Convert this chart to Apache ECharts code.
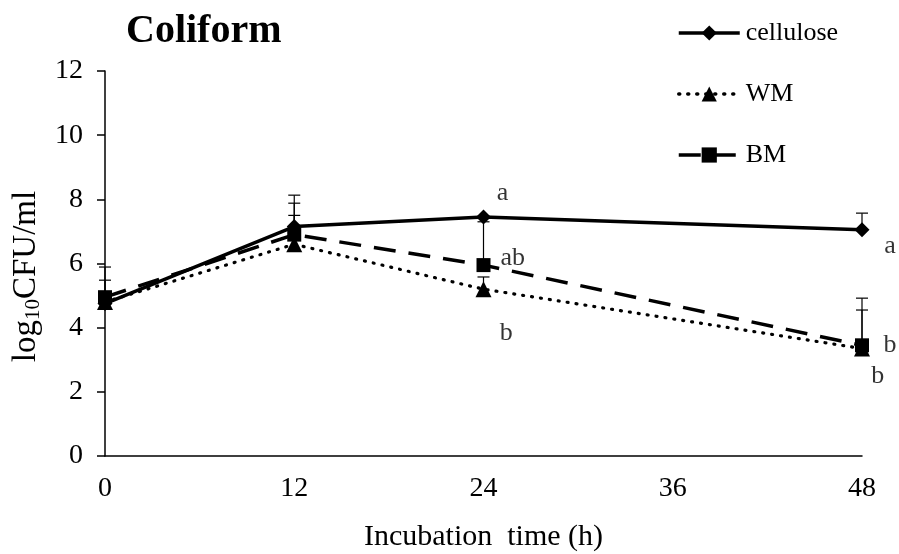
<!DOCTYPE html>
<html>
<head>
<meta charset="utf-8">
<script src="https://cdn.jsdelivr.net/npm/echarts@6/dist/echarts.min.js"></script>
<style>html,body{margin:0;padding:0;background:#fff}#c{width:899px;height:554px}</style>
</head>
<body>
<div id="c"></div>
<script>
// ---- data ----
const hours = [0, 12, 24, 48];
const xTicks = [0, 12, 24, 36, 48];
const cellulose = [4.75, 7.15, 7.45, 7.05];
const wm = [4.8, 6.6, 5.2, 3.35];
const bm = [4.95, 6.9, 5.95, 3.45];
const celluloseUpper = [5.48, 8.13, null, 7.57];
const wmUpper = [null, 7.5, 5.58, 4.55];
const bmUpper = [5.89, 7.88, 7.3, 4.92];
const letterText = ['a', 'ab', 'b', 'a', 'b', 'b'];
const letterX = [25.2, 25.85, 25.45, 49.78, 49.78, 49.0];
const letterY = [8.2, 6.17, 3.83, 6.55, 3.46, 2.49];

const FONT = '"Liberation Serif", "Times New Roman", serif';

function pairs(vals) { return hours.map((h, i) => [h, vals[i]]); }
function errData(vals, upper) {
  const out = [];
  hours.forEach((h, i) => { if (upper[i] != null) out.push([h, vals[i], upper[i]]); });
  return out;
}
const errAll = errData(cellulose, celluloseUpper).concat(errData(wm, wmUpper), errData(bm, bmUpper));

const chart = echarts.init(document.getElementById('c'));
chart.setOption({
  animation: false,
  backgroundColor: '#fff',
  title: {
    text: 'Coliform', left: 121, top: 7,
    textStyle: { fontFamily: FONT, fontWeight: 'bold', fontSize: 40, color: '#000' }
  },
  legend: {
    orient: 'vertical', left: 677, top: 20, padding: 0, itemWidth: 61, itemHeight: 19, itemGap: 35,
    textStyle: { fontFamily: FONT, fontSize: 26, color: '#000', padding: [0, 0, 0, 1] },
    lineStyle: { width: 3.5 },
    data: ['cellulose', 'WM', 'BM']
  },
  grid: { left: 105, right: 37, top: 71, bottom: 98, containLabel: false, outerBoundsMode: 'none' },
  xAxis: {
    type: 'value', min: 0, max: 48, interval: 12,
    name: 'Incubation  time (h)', nameLocation: 'middle', nameGap: 66,
    nameTextStyle: { fontFamily: FONT, fontSize: 30, color: '#000' },
    axisLine: { show: true, onZero: false, lineStyle: { color: '#000', width: 1.5 } },
    axisTick: { show: false },
    splitLine: { show: false },
    axisLabel: { fontFamily: FONT, fontSize: 28, color: '#000', margin: 19,
      customValues: xTicks, showMinLabel: true, showMaxLabel: true }
  },
  yAxis: {
    type: 'value', min: 0, max: 12, interval: 2,
    name: 'log{sub|10}CFU/ml', nameLocation: 'middle', nameGap: 61,
    nameTextStyle: { fontFamily: FONT, fontSize: 33, color: '#000', padding: [0, 26, 0, 0],
      rich: { sub: { fontFamily: FONT, fontSize: 21, color: '#000', verticalAlign: 'bottom', padding: [15, 0, 0, 0] } } },
    axisLine: { show: true, lineStyle: { color: '#000', width: 1.5 } },
    axisTick: { show: true, inside: false, length: 8, lineStyle: { color: '#000', width: 1.5 } },
    splitLine: { show: false },
    axisLabel: { fontFamily: FONT, fontSize: 28, color: '#000', margin: 22 }
  },
  series: [
    {
      name: 'cellulose', type: 'line', data: pairs(cellulose),
      symbol: 'diamond', symbolSize: 15, color: '#000',
      lineStyle: { color: '#000', width: 3.5, type: 'solid' },
      itemStyle: { color: '#000' }, z: 3
    },
    {
      name: 'WM', type: 'line', data: pairs(wm),
      symbol: 'triangle', symbolSize: 16, color: '#000',
      lineStyle: { color: '#000', width: 3.2, type: [1, 8], cap: 'round' },
      itemStyle: { color: '#000' }, z: 3
    },
    {
      name: 'BM', type: 'line', data: pairs(bm),
      symbol: 'rect', symbolSize: 14, color: '#000',
      lineStyle: { color: '#000', width: 3.5, type: [22, 13] },
      itemStyle: { color: '#000' }, z: 3
    },
    {
      name: 'err', type: 'custom', data: errAll, z: 4, silent: true,
      renderItem: function (params, api) {
        const x = api.value(0);
        const p0 = api.coord([x, api.value(1)]);
        const p1 = api.coord([x, api.value(2)]);
        const w = 6;
        return {
          type: 'group',
          children: [
            { type: 'line', shape: { x1: p0[0], y1: p0[1], x2: p1[0], y2: p1[1] }, style: { stroke: '#000', lineWidth: 1.2 } },
            { type: 'line', shape: { x1: p1[0] - w, y1: p1[1], x2: p1[0] + w, y2: p1[1] }, style: { stroke: '#000', lineWidth: 1.2 } }
          ]
        };
      }
    },
    {
      name: 'letters', type: 'scatter', clip: false, silent: true,
      data: letterText.map((t, i) => ({ name: t, value: [letterX[i], letterY[i]] })),
      symbolSize: 0,
      label: { show: true, position: 'inside', formatter: '{b}', fontFamily: FONT, fontSize: 26, color: '#000' }
    }
  ]
});
</script>
</body>
</html>
